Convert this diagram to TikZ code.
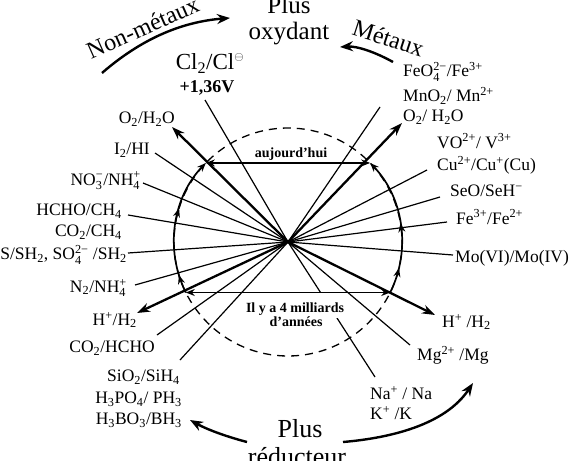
\documentclass[tikz,border=0pt]{standalone}
\usepackage{fontspec}
\setmainfont{Liberation Serif}
\usepackage{amsmath}
\usetikzlibrary{arrows.meta,decorations.markings,calc}
\newcommand\sbs[1]{\ensuremath{_{\text{#1}}}}
\newcommand\sps[1]{\ensuremath{^{\text{#1}}}}
\newcommand\sbp[2]{\ensuremath{_{\text{#1}}^{\text{#2}}}}
\begin{document}
\begin{tikzpicture}[x=1pt,y=-1pt,
  lab/.style={font=\fontsize{17.5}{20}\selectfont, inner sep=1pt},
  bigtxt/.style={font=\fontsize{25}{28}\selectfont, inner sep=0pt},
  sidetxt/.style={font=\fontsize{24}{26}\selectfont, inner sep=0pt},
  smallbold/.style={font=\bfseries\fontsize{14}{15}\selectfont, inner sep=1pt},
  radial/.style={line width=1.2pt},
  thickarrow/.style={line width=2.3pt, -{Stealth[length=13pt,width=9pt]}},
  bigarrow/.style={line width=2.4pt, -{Stealth[length=13pt,width=10pt]}},
  hline/.style={line width=1.3pt, {Stealth[length=9pt,width=7pt]}-{Stealth[length=9pt,width=7pt]}},
  arcline/.style={line width=1.7pt, -{Stealth[length=9pt,width=7pt]}},
  dashcircle/.style={line width=1.3pt, dash pattern=on 8pt off 6pt},
  midarrows/.style 2 args={postaction={decorate}, decoration={markings,
     mark=at position #1 with {\arrow{Stealth[length=9pt,width=7pt]}},
     mark=at position #2 with {\arrow{Stealth[length=9pt,width=7pt]}}}}
]
\useasboundingbox (0,0) rectangle (580,460);
\coordinate (C) at (288,242);

% dashed circle
\draw[dashcircle] (C) circle[radius=114];

% end points of radial lines
\coordinate (ecl) at (205,100);
\coordinate (ei2) at (155,153);
\coordinate (eno3) at (143,183);
\coordinate (ehcho) at (128,215);
\coordinate (es) at (128,253);
\coordinate (en2) at (135,285);
\coordinate (eco2) at (157,335);
\coordinate (esi) at (180,360);
\coordinate (efe) at (380,107);
\coordinate (evo) at (427,170);
\coordinate (ese) at (440,197);
\coordinate (efe3) at (447,222);
\coordinate (emo) at (453,255);
\coordinate (emg) at (410,345);
\coordinate (ena) at (375,377);
\coordinate (eo2l) at (172,127);
\coordinate (ehl) at (137,313);
\coordinate (eo2r) at (402,123);
\coordinate (ehr) at (435,315);

\foreach \e in {ecl,ei2,eno3,ehcho,es,en2,eco2,esi,efe,evo,ese,efe3,emo,emg,ena}
  \draw[radial] (C) -- (\e);
\foreach \e in {eo2l,ehl,eo2r,ehr}
  \draw[thickarrow] (C) -- (\e);

% solid arcs on the circle
\coordinate (tl) at ($(C)+(223.9:114)$);
\coordinate (tr) at ($(C)+(-43.9:114)$);
\coordinate (bl) at ($(C)+(153.7:114)$);
\coordinate (br) at ($(C)+(26.3:114)$);
\draw[arcline, midarrows={0.135}{0.62}] (bl) arc[start angle=153.7, end angle=223.9, radius=114];
\draw[arcline, midarrows={0.187}{0.51}] (br) arc[start angle=26.3, end angle=-43.9, radius=114];

% top horizontal line
\draw[hline] (tl) -- (tr);
\node[smallbold, anchor=base] (auj) at (291,157) {aujourd'hui};

% bottom text and line
\node[smallbold, anchor=base, fill=white, text height=18pt, text depth=4pt, inner ysep=2pt] (ilya) at (295,312) {Il y a 4 milliards};
\node[smallbold, anchor=base] (annees) at (296,326) {d'années};
\draw[hline] (bl) -- (br);

% titles
\node[bigtxt, anchor=base] (plus1) at (289,14) {Plus};
\node[bigtxt, anchor=base] (oxy) at (289,40) {oxydant};
\node[font=\fontsize{26}{28}\selectfont, inner sep=0pt, anchor=base] (plus2) at (300,437) {Plus};
\node[font=\fontsize{26}{28}\selectfont, inner sep=0pt, anchor=base] (red) at (297,465) {réducteur};
\node[sidetxt, anchor=base, rotate=24] (nonmet) at (146,35) {Non-métaux};
\node[sidetxt, anchor=base, rotate=-18] (met) at (386,46) {Métaux};

% curved arrows
\coordinate (a1s) at (102,73); \coordinate (a1e) at (230,18);
\coordinate (a2s) at (393,62); \coordinate (a2e) at (340,47);
\coordinate (a3s) at (247,442); \coordinate (a3e) at (190,420);
\coordinate (a4s) at (343,442); \coordinate (a4e) at (473,383);
\draw[bigarrow] (a1s) .. controls (140,40) and (180,22) .. (a1e);
\draw[bigarrow] (a2s) .. controls (375,52) and (357,46) .. (a2e);
\draw[bigarrow] (a3s) .. controls (228,437) and (208,430) .. (a3e);
\draw[bigarrow] (a4s) .. controls (390,438) and (445,425) .. (a4e);

% Cl label
\node[font=\fontsize{23}{26}\selectfont, inner sep=0pt, anchor=base] (cl) at (210,70) {Cl\sbs{2}/Cl$^{\scriptscriptstyle\ominus}$};
\node[font=\bfseries\fontsize{18}{20}\selectfont, inner sep=0pt, anchor=base] (v) at (207,92) {+1,36V};

% left labels
\node[lab, anchor=east] (lo2) at (176,119) {O\sbs{2}/H\sbs{2}O};
\node[lab, anchor=east] (li2) at (151,150) {I\sbs{2}/HI};
\node[lab, anchor=east] (lno3) at (142,181) {NO\sbp{3}{−}/NH\sbp{4}{+}};
\node[lab, anchor=east] (lhcho) at (123,211) {HCHO/CH\sbs{4}};
\node[lab, anchor=east] (lco2) at (123,232) {CO\sbs{2}/CH\sbs{4}};
\node[lab, anchor=east] (ls) at (128,255) {S/SH\sbs{2}, SO\sbp{4}{2−} /SH\sbs{2}};
\node[lab, anchor=east] (ln2) at (128,288) {N\sbs{2}/NH\sbp{4}{+}};
\node[lab, anchor=east] (lh) at (138,320) {H\sps{+}/H\sbs{2}};
\node[lab, anchor=east] (lco2h) at (156,348) {CO\sbs{2}/HCHO};
\node[lab, anchor=east] (lsi) at (181,377) {SiO\sbs{2}/SiH\sbs{4}};
\node[lab, anchor=east] (lp) at (183,399) {H\sbs{3}PO\sbs{4}/ PH\sbs{3}};
\node[lab, anchor=east] (lb) at (183,420) {H\sbs{3}BO\sbs{3}/BH\sbs{3}};

% right labels
\node[lab, anchor=west] (rfe) at (402,72) {FeO\sbp{4}{2−}/Fe\sps{3+}};
\node[lab, anchor=west] (rmn) at (402,96) {MnO\sbs{2}/ Mn\sps{2+}};
\node[lab, anchor=west] (ro2) at (402,117) {O\sbs{2}/ H\sbs{2}O};
\node[lab, anchor=west] (rvo) at (436,141) {VO\sps{2+}/ V\sps{3+}};
\node[lab, anchor=west] (rcu) at (436,165) {Cu\sps{2+}/Cu\sps{+}(Cu)};
\node[lab, anchor=west] (rse) at (449,191) {SeO/SeH\sps{−}};
\node[lab, anchor=west] (rfe3) at (455,217) {Fe\sps{3+}/Fe\sps{2+}};
\node[lab, anchor=west] (rmo) at (454,258) {Mo(VI)/Mo(IV)};
\node[lab, anchor=west] (rh) at (441,322) {H\sps{+} /H\sbs{2}};
\node[lab, anchor=west] (rmg) at (416,355) {Mg\sps{2+} /Mg};
\node[lab, anchor=west] (rna) at (369,393) {Na\sps{+} / Na};
\node[lab, anchor=west] (rk) at (369,413) {K\sps{+} /K};
\end{tikzpicture}
\end{document}
